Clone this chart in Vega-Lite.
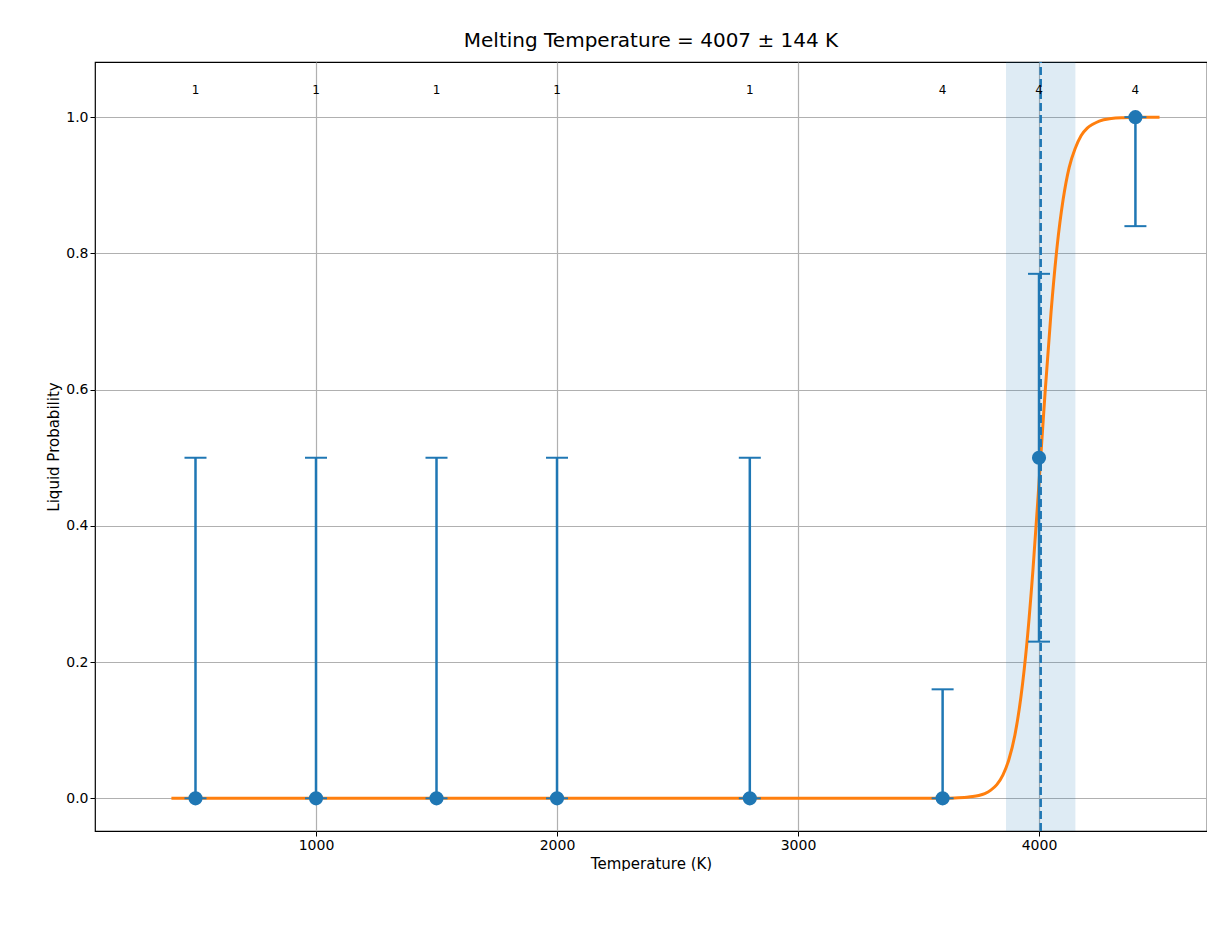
{
"$schema":"https://vega.github.io/schema/vega-lite/v6.json",
"width":1112,"height":769,
"padding":{"left":46,"top":30,"right":0,"bottom":0},
"background":"white",
"title":{"text":"Melting Temperature = 4007 ± 144 K","font":"DejaVu Sans","fontSize":20,"fontWeight":"normal","color":"black","offset":10},
"config":{"view":{"stroke":"black","strokeWidth":1.2},"font":"DejaVu Sans",
"axis":{"grid":true,"labelFont":"DejaVu Sans","titleFont":"DejaVu Sans","labelFontSize":14,"titleFontSize":15,"titleFontWeight":"normal","labelColor":"black","titleColor":"black","tickColor":"black","domain":false,"gridColor":"#b0b0b0","gridOpacity":1,"gridWidth":1.2,"tickSize":5}},
"datasets":{
"pts":[{"T":500,"p":0,"lo":0,"hi":0.5,"n":"1"},{"T":1000,"p":0,"lo":0,"hi":0.5,"n":"1"},{"T":1500,"p":0,"lo":0,"hi":0.5,"n":"1"},{"T":2000,"p":0,"lo":0,"hi":0.5,"n":"1"},{"T":2800,"p":0,"lo":0,"hi":0.5,"n":"1"},{"T":3600,"p":0,"lo":0,"hi":0.16,"n":"4"},{"T":4000,"p":0.5,"lo":0.23,"hi":0.77,"n":"4"},{"T":4400,"p":1,"lo":0.84,"hi":1,"n":"4"}],
"curve":[{"T":400,"p":0},{"T":1000,"p":0},{"T":2000,"p":0},{"T":3000,"p":0},{"T":3500,"p":0.00002},{"T":3600,"p":0.00017},{"T":3650,"p":0.0005},{"T":3700,"p":0.0015},{"T":3725,"p":0.0025},{"T":3750,"p":0.0042},{"T":3775,"p":0.007},{"T":3800,"p":0.012},{"T":3825,"p":0.02},{"T":3850,"p":0.034},{"T":3875,"p":0.057},{"T":3900,"p":0.093},{"T":3925,"p":0.149},{"T":3950,"p":0.229},{"T":3975,"p":0.336},{"T":4000,"p":0.463},{"T":4025,"p":0.595},{"T":4050,"p":0.714},{"T":4075,"p":0.81},{"T":4100,"p":0.879},{"T":4125,"p":0.926},{"T":4150,"p":0.954},{"T":4175,"p":0.973},{"T":4200,"p":0.984},{"T":4225,"p":0.99},{"T":4250,"p":0.9943},{"T":4300,"p":0.998},{"T":4350,"p":0.9993},{"T":4400,"p":0.9998},{"T":4500,"p":1}],
"band":[{"a":3863,"b":4151,"m":4007}]
},
"encoding":{
"x":{"type":"quantitative","scale":{"domain":[83,4697],"nice":false,"zero":false},"axis":{"title":"Temperature (K)","values":[1000,2000,3000,4000],"format":"d","labelFlush":false,"grid":true}},
"y":{"type":"quantitative","scale":{"domain":[-0.048,1.081],"nice":false,"zero":false},"axis":{"title":"Liquid Probability","values":[0,0.2,0.4,0.6,0.8,1.0],"format":".1f","grid":true}}
},
"layer":[
{"data":{"name":"band"},"mark":{"type":"rect","color":"#1f77b4","opacity":0.15},"encoding":{"x":{"field":"a","type":"quantitative"},"x2":{"field":"b"},"y":{"datum":-0.048,"type":"quantitative"},"y2":{"datum":1.081}}},
{"data":{"name":"curve"},"mark":{"type":"line","color":"#ff7f0e","strokeWidth":3,"interpolate":"monotone"},"encoding":{"x":{"field":"T","type":"quantitative"},"y":{"field":"p","type":"quantitative"}}},
{"data":{"name":"pts"},"mark":{"type":"rule","color":"#1f77b4","strokeWidth":2.5},"encoding":{"x":{"field":"T","type":"quantitative"},"y":{"field":"lo","type":"quantitative"},"y2":{"field":"hi"}}},
{"data":{"name":"pts"},"mark":{"type":"tick","orient":"horizontal","color":"#1f77b4","size":22,"thickness":2,"opacity":1},"encoding":{"x":{"field":"T","type":"quantitative"},"y":{"field":"lo","type":"quantitative"}}},
{"data":{"name":"pts"},"mark":{"type":"tick","orient":"horizontal","color":"#1f77b4","size":22,"thickness":2,"opacity":1},"encoding":{"x":{"field":"T","type":"quantitative"},"y":{"field":"hi","type":"quantitative"}}},
{"data":{"name":"pts"},"mark":{"type":"point","filled":true,"color":"#1f77b4","opacity":1,"size":200},"encoding":{"x":{"field":"T","type":"quantitative"},"y":{"field":"p","type":"quantitative"}}},
{"data":{"name":"band"},"mark":{"type":"rule","color":"#1f77b4","strokeWidth":2.5,"strokeDash":[8,4]},"encoding":{"x":{"field":"m","type":"quantitative"},"y":{"datum":-0.048,"type":"quantitative"},"y2":{"datum":1.081}}},
{"data":{"name":"pts"},"mark":{"type":"text","fontSize":12,"color":"black","font":"DejaVu Sans"},"encoding":{"x":{"field":"T","type":"quantitative"},"y":{"datum":1.04,"type":"quantitative"},"text":{"field":"n"}}}
]
}
